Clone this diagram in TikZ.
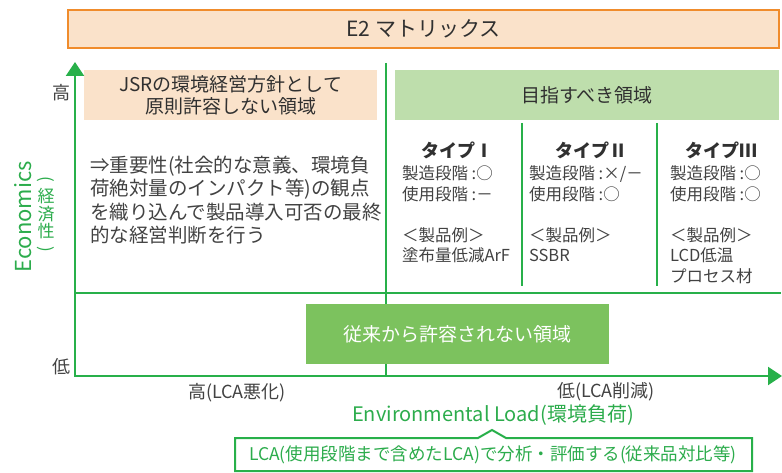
\documentclass[tikz,border=0pt]{standalone}
\usepackage{fontspec}
\setmainfont{Noto Sans CJK JP}
\usetikzlibrary{arrows.meta}
\definecolor{gline}{RGB}{40,176,74}
\definecolor{gtext}{RGB}{44,172,76}
\definecolor{orangeline}{RGB}{240,140,44}
\definecolor{peach}{RGB}{250,226,202}
\definecolor{lightgreen}{RGB}{190,222,172}
\definecolor{midgreen}{RGB}{124,194,94}
\definecolor{txtgray}{RGB}{66,66,66}
\definecolor{txtdark}{RGB}{48,48,48}
\newcommand{\fs}[2]{\fontsize{#1}{#2}\selectfont}
\begin{document}
\begin{tikzpicture}[x=1pt,y=-1pt,
  every node/.style={inner sep=0pt, outer sep=0pt, text=txtgray},
  axisline/.style={draw=gline, line width=2pt},
  titlebox/.style={fill=peach, draw=orangeline, line width=2.5pt, minimum width=711pt, minimum height=38pt, text=txtdark, font=\fs{21}{24}},
  headbox/.style={minimum height=50pt, align=center, text=txtdark, font=\fs{19}{22.5}},
  typetitle/.style={font=\bfseries\fs{18}{20}, text=txtdark},
  typebody/.style={anchor=north west, align=left, font=\fs{16.5}{20.5}},
  lbl/.style={font=\fs{18}{20}},
  greenlbl/.style={text=gtext, font=\fs{17.5}{20}}
]
\useasboundingbox (0,0) rectangle (782,473);

% title
\node[titlebox] (title) at (423.5,29) {E2 マトリックス};

% header boxes
\node[headbox, fill=peach, minimum width=293pt] (lefthead) at (230.5,95.5) {JSRの環境経営方針として\\原則許容しない領域};
\node[headbox, fill=lightgreen, minimum width=384pt] (righthead) at (587,95.5) {目指すべき領域};

% grid lines
\coordinate (ytip) at (75,62);
\coordinate (origin) at (75,376);
\coordinate (xtip) at (782,376);
\coordinate (vtop) at (386,63);
\coordinate (vbot) at (386,376);
\coordinate (hleft) at (75,293);
\coordinate (hright) at (781,293);
\coordinate (d1top) at (522,123);
\coordinate (d1bot) at (522,286);
\coordinate (d2top) at (657,123);
\coordinate (d2bot) at (657,286);
\draw[axisline] (vtop) -- (vbot);
\draw[axisline] (hleft) -- (hright);
\draw[axisline] (d1top) -- (d1bot);
\draw[axisline] (d2top) -- (d2bot);
\draw[axisline, {Triangle[width=18pt,length=14pt]}-{Triangle[width=18pt,length=14pt]}] (ytip) -- (origin) -- (xtip);

% left body text
\node[anchor=north west, align=left, font=\fs{19.5}{23.5}] (leftbody) at (90,156)
 {⇒重要性(社会的な意義、環境負\\荷絶対量のインパクト等)の観点\\を織り込んで製品導入可否の最終\\的な経営判断を行う};

% type columns
\node[typetitle] (t1) at (457,150) {タイプⅠ};
\node[typetitle] (t2) at (591,150) {タイプⅡ};
\node[typetitle] (t3) at (721,150) {タイプⅢ};
\node[typebody] (b1) at (402,166) {製造段階 :○\\使用段階 :－\\[20.5pt]＜製品例＞\\塗布量低減ArF};
\node[typebody] (b2) at (529,166) {製造段階 :×/－\\使用段階 :○\\[20.5pt]＜製品例＞\\SSBR};
\node[typebody] (b3) at (670,166) {製造段階 :○\\使用段階 :○\\[20.5pt]＜製品例＞\\LCD低温\\プロセス材};

% bottom green box
\node[fill=midgreen, minimum width=303pt, minimum height=60pt, text=white, font=\fs{19}{22}] (banned) at (457.5,334) {従来から許容されない領域};

% axis labels
\node[lbl] (yhigh) at (61,93) {高};
\node[lbl] (ylow) at (61,367) {低};
\node[lbl] (xhigh) at (237,393) {高(LCA悪化)};
\node[lbl] (xlow) at (606,392) {低(LCA削減)};
\node[greenlbl, font=\fs{20}{22}] (xname) at (493,415) {Environmental Load(環境負荷)};
\node[greenlbl, rotate=90, font=\fs{22}{24}] (yname) at (23,217) {Economics};
\node[greenlbl, align=center, font=\fs{17}{17.5}] (yname2) at (46,216) {\rotatebox[origin=c]{-90}{(}\\経\\済\\性\\\rotatebox[origin=c]{-90}{)}};

% callout
\coordinate (c1) at (235,438);
\coordinate (c2) at (478,438);
\coordinate (c3) at (492,430);
\coordinate (c4) at (506,438);
\coordinate (c5) at (752,438);
\coordinate (c6) at (752,471);
\coordinate (c7) at (235,471);
\draw[draw=gline, line width=2pt, fill=white] (c1) -- (c2) -- (c3) -- (c4) -- (c5) -- (c6) -- (c7) -- cycle;
\node[greenlbl] (note) at (493,455) {LCA(使用段階まで含めたLCA)で分析・評価する(従来品対比等)};
\end{tikzpicture}
\end{document}
